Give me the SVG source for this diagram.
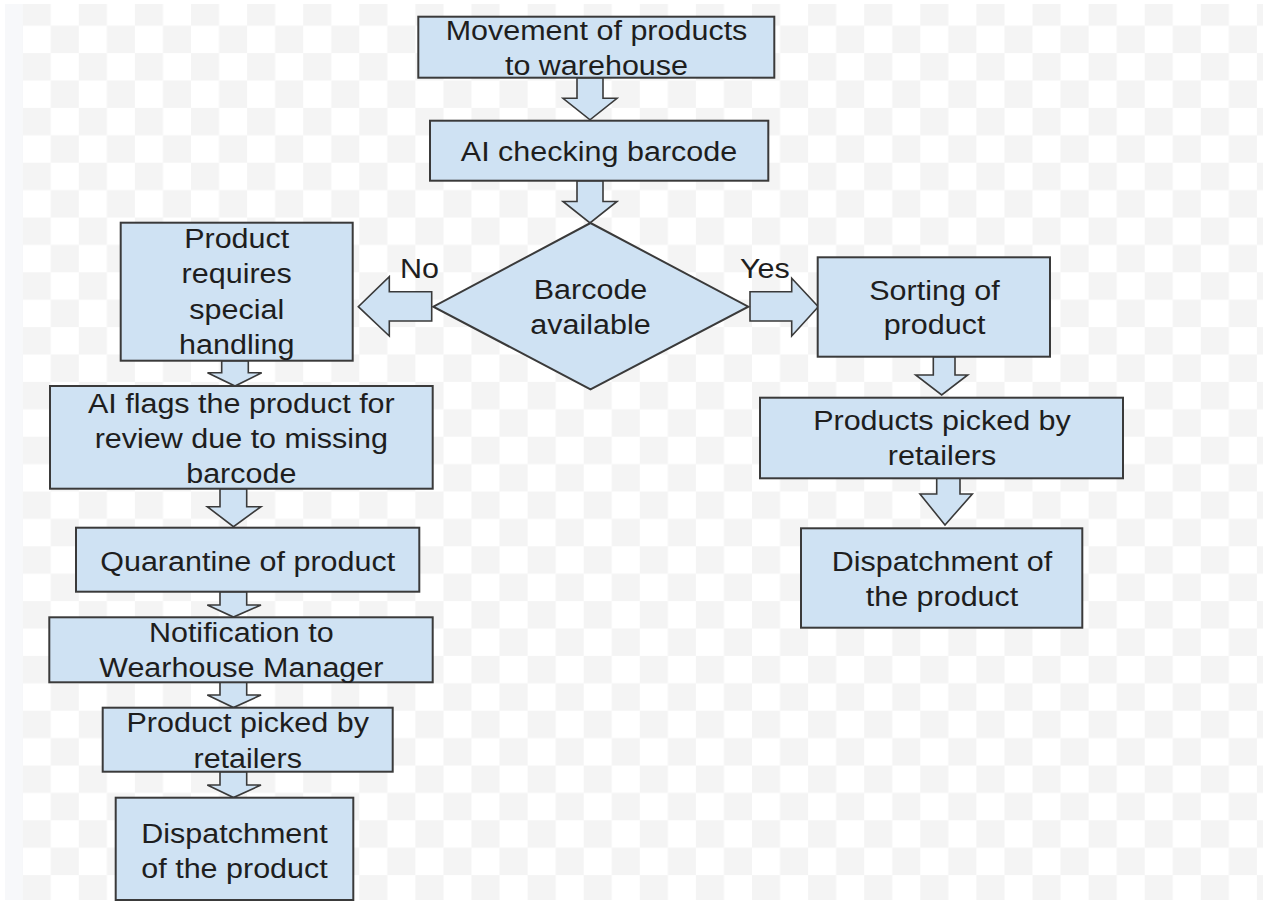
<svg xmlns="http://www.w3.org/2000/svg" width="1263" height="904" viewBox="0 0 1263 904">
<defs>
<pattern id="checker" x="22.7" y="-1.7" width="56.1" height="54.8" patternUnits="userSpaceOnUse">
<rect x="0" y="0" width="28.05" height="27.4" fill="#f4f4f4"/>
<rect x="28.05" y="27.4" width="28.05" height="27.4" fill="#f4f4f4"/>
</pattern>
<style>
.box{fill:#cfe2f3;stroke:#3a3a3a;stroke-width:2}
.arr{fill:#cfe2f3;stroke:#3a3a3a;stroke-width:1.6;stroke-linejoin:miter}
.t{font-family:"Liberation Sans",Arial,sans-serif;font-size:27px;fill:#1e1e1e;text-anchor:middle}
.lbl{font-family:"Liberation Sans",Arial,sans-serif;font-size:27px;fill:#1e1e1e}
</style>
</defs>
<rect x="0" y="0" width="1263" height="904" fill="#ffffff"/>
<rect x="5" y="4" width="18" height="896" fill="#f7f8fa"/>
<rect x="22.7" y="4" width="1240.3" height="896" fill="url(#checker)"/>

<g id="connectors">
<polygon class="arr" points="577,77.7 603,77.7 603,98.3 617,98.3 590,119.8 563,98.3 577,98.3"/>
<polygon class="arr" points="577,180.7 603,180.7 603,201.5 617,201.5 590,223 563,201.5 577,201.5"/>
<polygon class="arr" points="431.7,291.7 389.3,291.7 389.3,276.7 358.3,306.7 389.3,336 389.3,321 431.7,321"/>
<polygon class="arr" points="750,291.7 791.7,291.7 791.7,278.3 818.3,306.7 791.7,336 791.7,321 750,321"/>
<polygon class="arr" points="221.7,360.7 248.3,360.7 248.3,372.7 261.7,372.7 235,386 207.5,372.7 221.7,372.7"/>
<polygon class="arr" points="220,488.7 246.7,488.7 246.7,506.7 261,506.7 233.5,526.7 207.3,506.7 220,506.7"/>
<polygon class="arr" points="220,591.7 246.7,591.7 246.7,605 261,605 233.5,617 207.3,605 220,605"/>
<polygon class="arr" points="220,682.3 246.7,682.3 246.7,695 261,695 233.5,707.5 207.3,695 220,695"/>
<polygon class="arr" points="220,771.7 246.7,771.7 246.7,785 261,785 233.5,797.5 207.3,785 220,785"/>
<polygon class="arr" points="933.3,356.7 955,356.7 955,375 967.7,375 941.7,395 915.7,375 933.3,375"/>
<polygon class="arr" points="936.7,478.3 960,478.3 960,494 972.3,494 945,525 920,494 936.7,494"/>
<text class="lbl" transform="matrix(1.13 0 0 1 400 278.3)">No</text>
<text class="lbl" transform="matrix(1.13 0 0 1 740 278.3)">Yes</text>
</g>

<g id="n1">
<rect class="box" x="418.3" y="16.7" width="356" height="61"/>
<text class="t" transform="matrix(1.13 0 0 1 596.5 40)"><tspan x="0" y="0">Movement of products</tspan><tspan x="0" y="35">to warehouse</tspan></text>
</g>
<g id="n2">
<rect class="box" x="430" y="120.7" width="338.3" height="60"/>
<text class="t" transform="matrix(1.13 0 0 1 599 160.7)">AI checking barcode</text>
</g>
<g id="n3">
<polygon class="box" points="590.5,223 748.3,306.7 590.5,389.3 433.3,306.7"/>
<text class="t" transform="matrix(1.13 0 0 1 590.5 299.3)"><tspan x="0" y="0">Barcode</tspan><tspan x="0" y="35">available</tspan></text>
</g>
<g id="n4">
<rect class="box" x="120.7" y="222.7" width="232" height="138"/>
<text class="t" transform="matrix(1.13 0 0 1 236.7 248.3)"><tspan x="0" y="0">Product</tspan><tspan x="0" y="35.2">requires</tspan><tspan x="0" y="70.4">special</tspan><tspan x="0" y="105.6">handling</tspan></text>
</g>
<g id="n5">
<rect class="box" x="50" y="386" width="382.7" height="102.7"/>
<text class="t" transform="matrix(1.13 0 0 1 241.3 413.3)"><tspan x="0" y="0">AI flags the product for</tspan><tspan x="0" y="35">review due to missing</tspan><tspan x="0" y="70">barcode</tspan></text>
</g>
<g id="n6">
<rect class="box" x="76" y="527.7" width="343.3" height="64"/>
<text class="t" transform="matrix(1.13 0 0 1 247.7 570.7)">Quarantine of product</text>
</g>
<g id="n7">
<rect class="box" x="49.3" y="617.3" width="383.4" height="65"/>
<text class="t" transform="matrix(1.13 0 0 1 241.3 641.7)"><tspan x="0" y="0">Notification to</tspan><tspan x="0" y="35">Wearhouse Manager</tspan></text>
</g>
<g id="n8">
<rect class="box" x="102.7" y="707.7" width="290" height="64"/>
<text class="t" transform="matrix(1.13 0 0 1 247.7 732.3)"><tspan x="0" y="0">Product picked by</tspan><tspan x="0" y="35.4">retailers</tspan></text>
</g>
<g id="n9">
<rect class="box" x="115.7" y="797.7" width="237.6" height="102.3"/>
<text class="t" transform="matrix(1.13 0 0 1 234.5 842.7)"><tspan x="0" y="0">Dispatchment</tspan><tspan x="0" y="35.6">of the product</tspan></text>
</g>
<g id="n10">
<rect class="box" x="817.7" y="257.3" width="232.3" height="99.4"/>
<text class="t" transform="matrix(1.13 0 0 1 934.5 300)"><tspan x="0" y="0">Sorting of</tspan><tspan x="0" y="34">product</tspan></text>
</g>
<g id="n11">
<rect class="box" x="760" y="397.7" width="363" height="80.6"/>
<text class="t" transform="matrix(1.13 0 0 1 942 430)"><tspan x="0" y="0">Products picked by</tspan><tspan x="0" y="35">retailers</tspan></text>
</g>
<g id="n12">
<rect class="box" x="801" y="528.3" width="281.3" height="99.4"/>
<text class="t" transform="matrix(1.13 0 0 1 942 570.7)"><tspan x="0" y="0">Dispatchment of</tspan><tspan x="0" y="35.3">the product</tspan></text>
</g>
</svg>
